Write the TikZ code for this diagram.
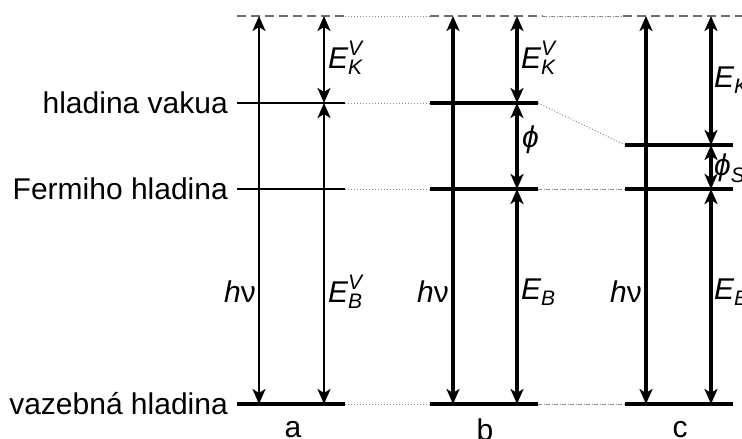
\documentclass[tikz,border=0pt]{standalone}
\usepackage{amsmath}
\usepackage{fontspec}
\setmainfont{Liberation Sans}
\usetikzlibrary{arrows.meta, positioning}
\definecolor{lvlGray}{HTML}{6E6E6E}
\definecolor{linkGray}{HTML}{8A8A8A}
\newcommand{\itx}[1]{\text{\itshape #1}}

\begin{document}
\begin{tikzpicture}[
  x=1pt, y=-1pt,
  level/.style={line width=#1, black},
  level/.default=3.4pt,
  vaclevel/.style={dashed, dash pattern=on 9pt off 5pt, line width=2pt, color=lvlGray},
  link/.style={dotted, line width=1pt, color=linkGray},
  linkb/.style={dash pattern=on 4pt off 1.5pt on 1pt off 1.5pt, line width=1pt, color=linkGray},
  tip/.tip={Stealth[length=15pt, width=13pt, inset=4pt]},
  energy/.style={tip-tip, line width=#1},
  energy/.default=3.2pt,
  txt/.style={font=\fontsize{30}{36}\selectfont, inner sep=0pt},
]
\useasboundingbox (0,0) rectangle (742,439);

% Level end points
\coordinate (aTopL) at (237,16);  \coordinate (aTopR) at (345,16);
\coordinate (bTopL) at (430,16);  \coordinate (bTopR) at (543,16);
\coordinate (cTopL) at (623,16);  \coordinate (cTopR) at (742,16);
\coordinate (aVacL) at (237,103); \coordinate (aVacR) at (345,103);
\coordinate (bVacL) at (430,103); \coordinate (bVacR) at (538,103);
\coordinate (cVacL) at (625,145); \coordinate (cVacR) at (733,145);
\coordinate (aFerL) at (237,189); \coordinate (aFerR) at (345,189);
\coordinate (bFerL) at (430,189); \coordinate (bFerR) at (538,189);
\coordinate (cFerL) at (625,189); \coordinate (cFerR) at (733,189);
\coordinate (aBndL) at (237,404); \coordinate (aBndR) at (345,404);
\coordinate (bBndL) at (430,404); \coordinate (bBndR) at (538,404);
\coordinate (cBndL) at (625,404); \coordinate (cBndR) at (733,404);

% Top level
\draw[vaclevel] (aTopL) -- (aTopR);
\draw[vaclevel] (bTopL) -- (bTopR);
\draw[vaclevel] (cTopL) -- (cTopR);
\draw[link] (aTopR) -- (bTopL);
\draw[linkb] (bTopR) -- (cTopL);

% Levels
\draw[level=2.8pt] (aVacL) -- (aVacR);
\draw[level] (bVacL) -- (bVacR);
\draw[level] (cVacL) -- (cVacR);
\draw[level=2.8pt] (aFerL) -- (aFerR);
\draw[level] (bFerL) -- (bFerR);
\draw[level] (cFerL) -- (cFerR);
\draw[level] (aBndL) -- (aBndR);
\draw[level] (bBndL) -- (bBndR);
\draw[level] (cBndL) -- (cBndR);

% Links between columns
\draw[link] (aVacR) -- (bVacL);
\draw[link] (bVacR) -- (cVacL);
\draw[link] (aFerR) -- (bFerL);
\draw[linkb] (bFerR) -- (cFerL);
\draw[link] (aBndR) -- (bBndL);
\draw[linkb] (bBndR) -- (cBndL);

% Arrow ends
\foreach \col/\hx/\ex in {a/259/324, b/453/517, c/646/711} {
  \coordinate (\col hvT) at (\hx,16);
  \coordinate (\col hvB) at (\hx,404);
  \coordinate (\col eT) at (\ex,16);
  \coordinate (\col eB) at (\ex,404);
}
\coordinate (aeV) at (324,103);
\coordinate (beV) at (517,103);
\coordinate (beF) at (517,189);
\coordinate (ceV) at (711,145);
\coordinate (ceF) at (711,189);

% Arrows
\draw[energy=2.6pt] (ahvT) -- (ahvB);
\draw[energy=2.6pt] (aeT) -- (aeV);
\draw[energy=2.6pt] (aeV) -- (aeB);
\draw[energy] (bhvT) -- (bhvB);
\draw[energy] (beT) -- (beV);
\draw[energy] (beV) -- (beF);
\draw[energy] (beF) -- (beB);
\draw[energy] (chvT) -- (chvB);
\draw[energy] (ceT) -- (ceV);
\draw[energy] (ceV) -- (ceF);
\draw[energy] (ceF) -- (ceB);

% Level names
\node[txt, anchor=east] (vac) at (228,103) {hladina vakua};
\node[txt, anchor=east] (fer) at (228,189) {Fermiho hladina};
\node[txt, anchor=east] (bnd) at (228,404) {vazebná hladina};

% Energy labels
\node[txt, anchor=east] (ahv) at (256,292) {\textit{h}ν};
\node[txt, anchor=west] (aEK) at (328,58) {$\itx{E}_{\itx{K}}^{\itx{V}}$};
\node[txt, anchor=west] (aEB) at (328,292) {$\itx{E}_{\itx{B}}^{\itx{V}}$};
\node[txt, anchor=east] (bhv) at (449,292) {\textit{h}ν};
\node[txt, anchor=west] (bEK) at (521,58) {$\itx{E}_{\itx{K}}^{\itx{V}}$};
\node[txt, anchor=west] (bphi) at (522,140) {\textit{ϕ}};
\node[txt, anchor=west] (bEB) at (521,292) {$\itx{E}_{\itx{B}}$};
\node[txt, anchor=east] (chv) at (642,292) {\textit{h}ν};
\node[txt, anchor=west] (cEK) at (714,80) {$\itx{E}_{\itx{K}}$};
\node[txt, anchor=west] (cphi) at (714,168) {$\itx{ϕ}_{\itx{S}}$};
\node[txt, anchor=west] (cEB) at (714,292) {$\itx{E}_{\itx{B}}$};

% Column names
\node[txt] (ca) at (293,430) {a};
\node[txt] (cb) at (485,430) {b};
\node[txt] (cc) at (680,430) {c};

\end{tikzpicture}
\end{document}
